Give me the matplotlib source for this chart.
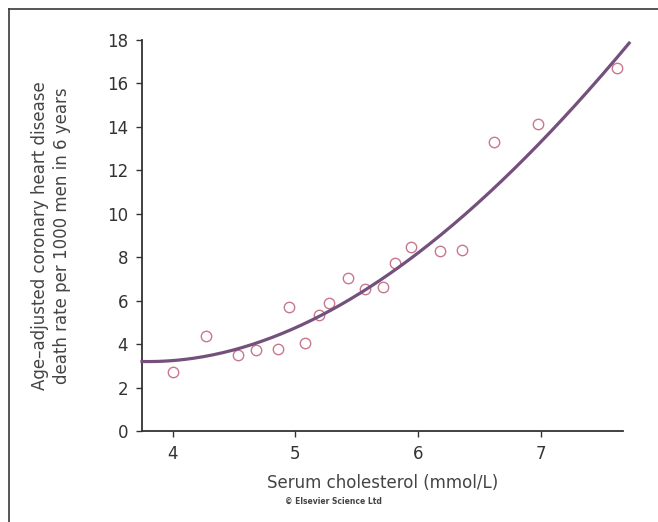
import numpy as np
import matplotlib
matplotlib.use("Agg")
import matplotlib.pyplot as plt
from matplotlib.lines import Line2D

# Observed points
chol = [4.00, 4.27, 4.53, 4.68, 4.86, 4.95, 5.08, 5.19, 5.27, 5.43,
        5.57, 5.71, 5.81, 5.94, 6.18, 6.36, 6.62, 6.98, 7.62]
rate = [2.73, 4.37, 3.50, 3.73, 3.78, 5.70, 4.04, 5.34, 5.88, 7.03,
        6.52, 6.64, 7.72, 8.49, 8.30, 8.33, 13.32, 14.12, 16.70]

# Fitted curve
curve_x = [3.75, 4.57, 5.14, 5.30, 6.12, 6.56, 6.62, 7.15, 7.72]
curve_y = [3.20, 3.81, 5.11, 5.72, 8.72, 10.64, 11.17, 14.47, 17.77]

xticks = [4, 5, 6, 7]
yticks = [0, 2, 4, 6, 8, 10, 12, 14, 16, 18]

fig = plt.figure(figsize=(6.58, 5.22), dpi=100)
ax = fig.add_axes([142/658, 1-431/522, (623-142)/658, (431-40)/522])

coef = np.polyfit(curve_x, curve_y, 3)
xs = np.linspace(curve_x[0], curve_x[-1], 200)
ax.plot(xs, np.polyval(coef, xs), color='#74507c', lw=2.3, clip_on=False, zorder=3)
ax.plot(chol, rate, 'o', ms=7.5, mfc='white', mec='#c8788c', mew=1.0, zorder=2, clip_on=False)

ax.set_xlim(3.75, 7.67)
ax.set_ylim(0, 18)
ax.set_xticks(xticks)
ax.set_yticks(yticks)
for s in ['top', 'right']:
    ax.spines[s].set_visible(False)
for s in ['left', 'bottom']:
    ax.spines[s].set_color('#333333')
    ax.spines[s].set_linewidth(1.3)
ax.tick_params(direction='out', length=4, width=1.0, color='#333333',
               labelsize=12, labelcolor='#333333', pad=6)

ax.set_xlabel('Serum cholesterol (mmol/L)', fontsize=12, color='#444444', labelpad=8)
ax.set_ylabel('Age–adjusted coronary heart disease\ndeath rate per 1000 men in 6 years',
              fontsize=12, color='#444444', linespacing=1.3, ha='center', va='center')
ax.yaxis.set_label_coords((51-142)/481, 0.5)

fig.text(333/658, 1-501/522, '© Elsevier Science Ltd', fontsize=5.5, fontweight='bold',
         color='#444444', ha='center', va='center')

# frame lines (top and left)
fig.add_artist(Line2D([8.5/658, 1], [1-9/522, 1-9/522], color='#3a3a3a', lw=1.2))
fig.add_artist(Line2D([8.5/658, 8.5/658], [0, 1-9/522], color='#3a3a3a', lw=1.2))

fig.savefig('out.png', dpi=100)
